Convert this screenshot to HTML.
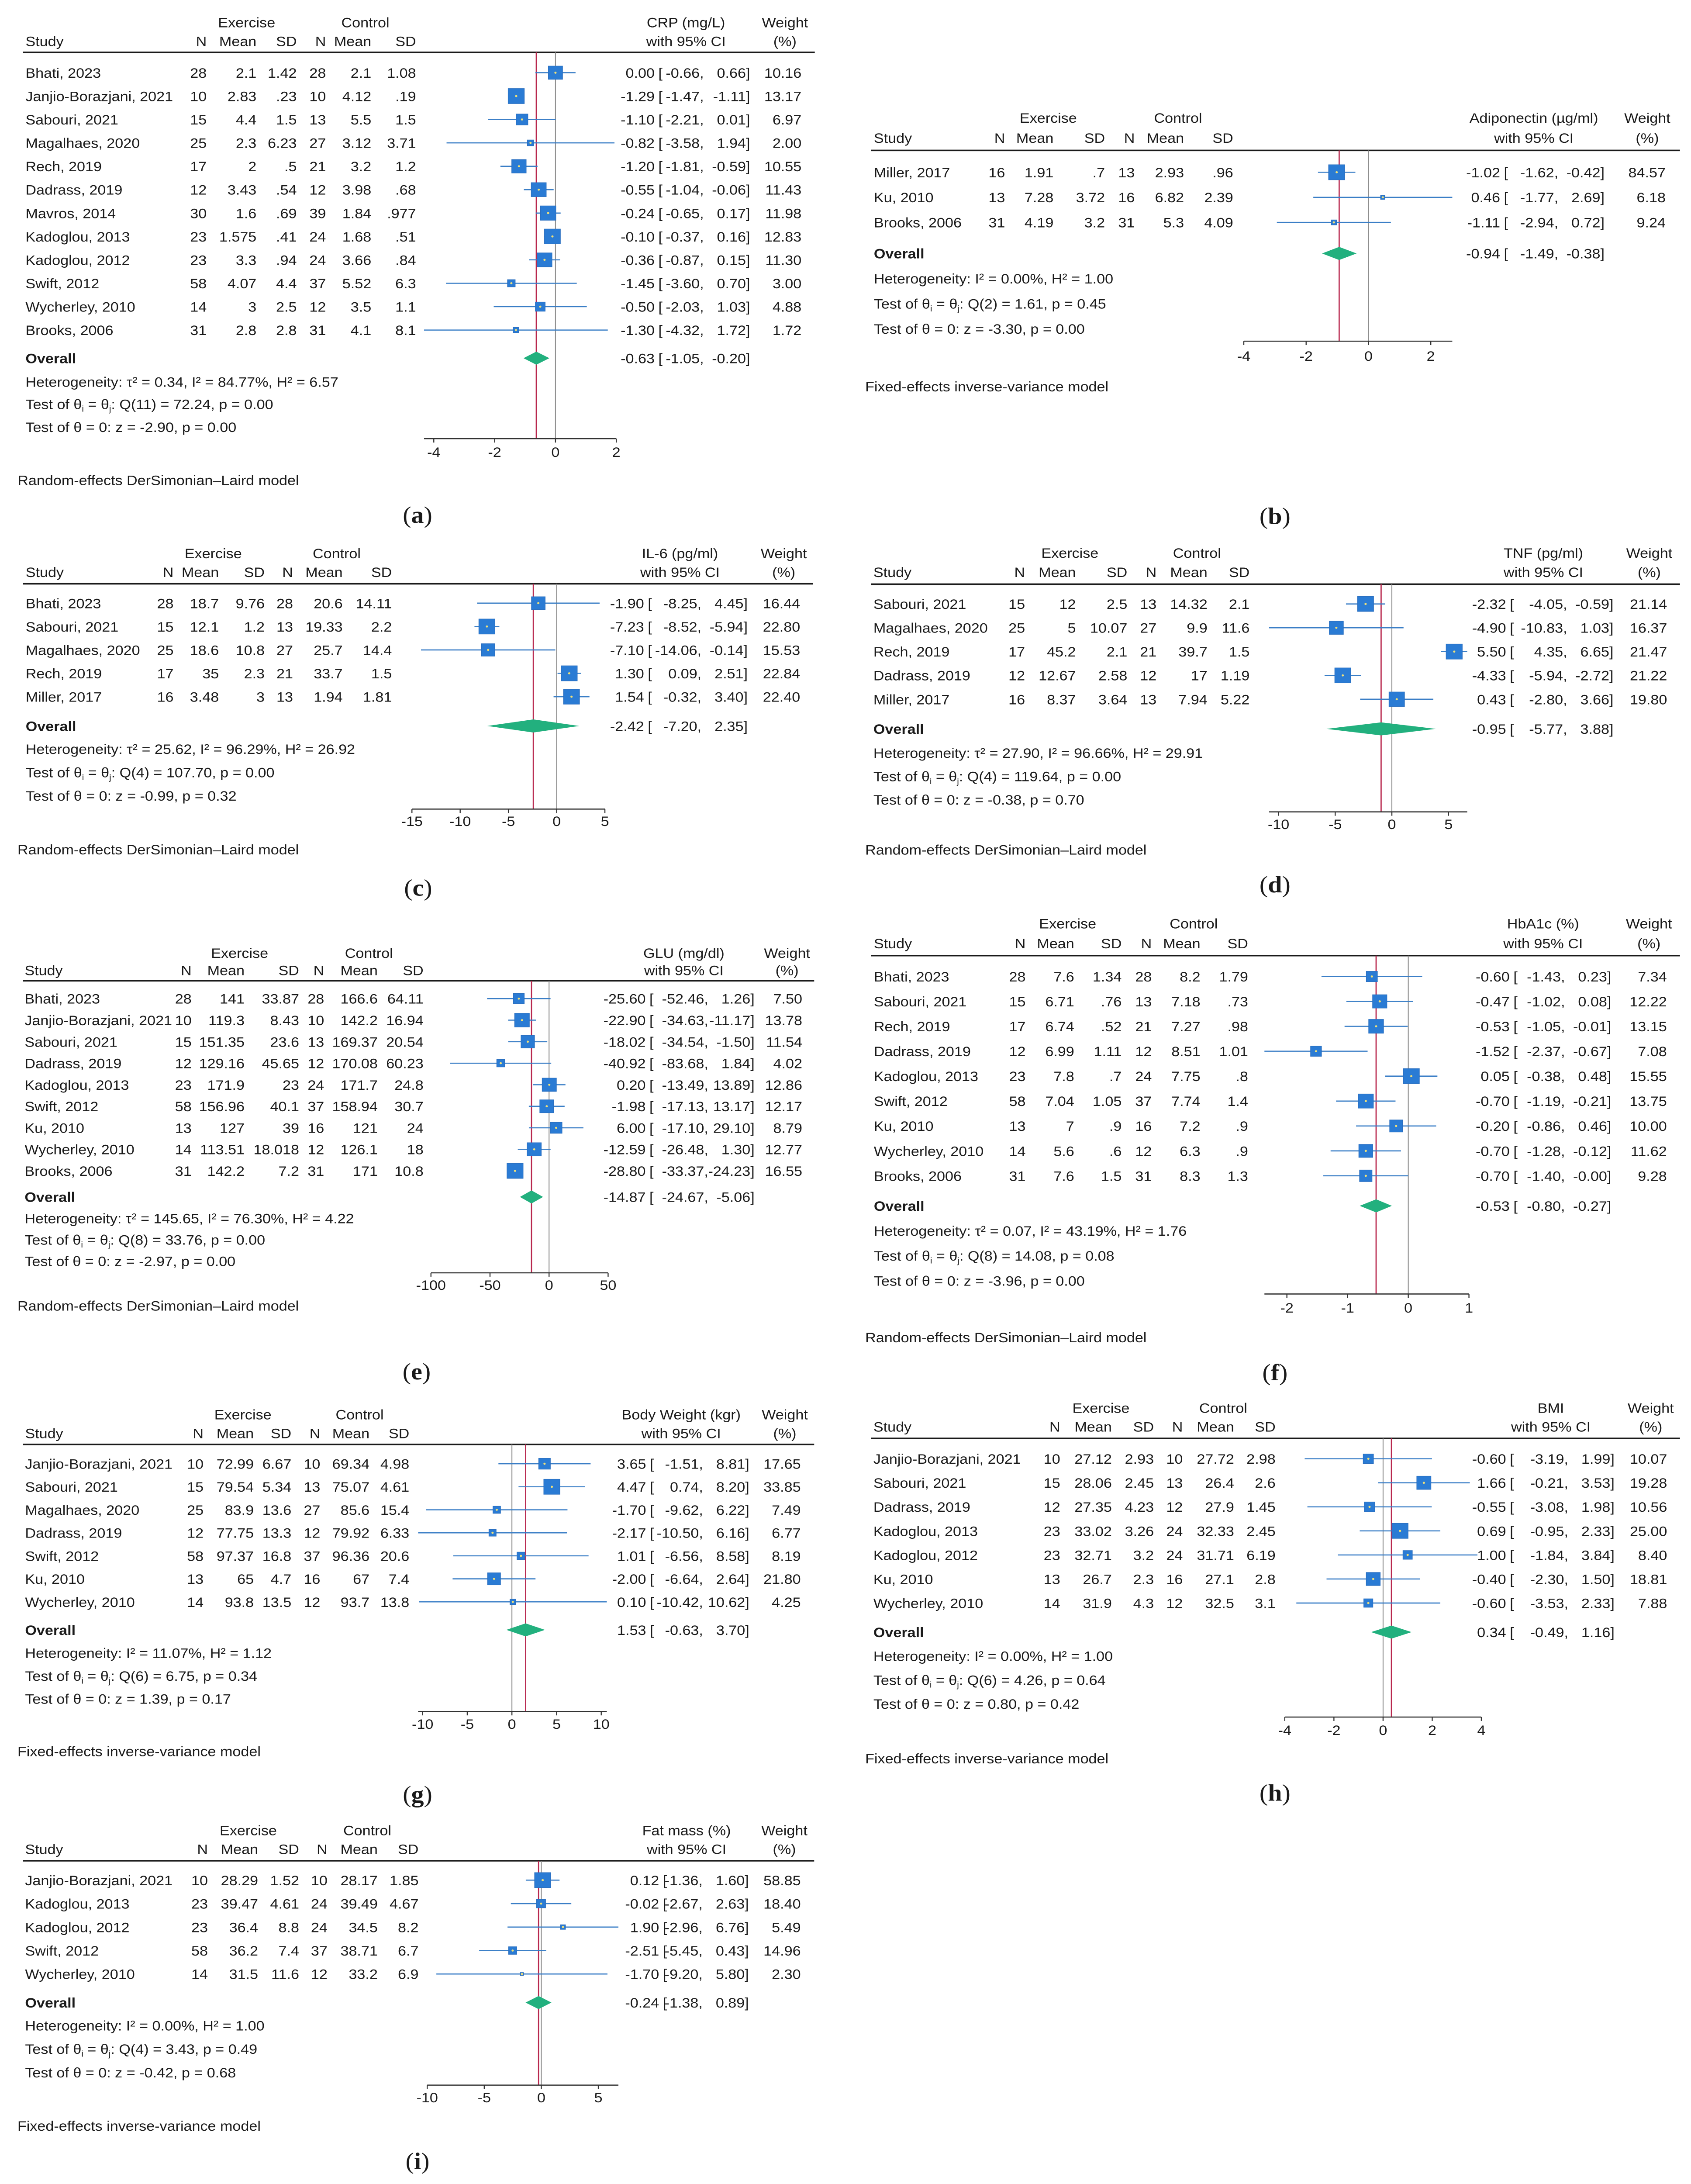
<!DOCTYPE html>
<html><head><meta charset="utf-8">
<style>
html,body{margin:0;padding:0;background:#fff;width:100%;height:100%;overflow:hidden;}
svg{display:block;position:absolute;left:0;top:0;width:100vw;height:100vh;}
text{font-family:"Liberation Sans",Arial,sans-serif;fill:#1a1a1a;}
text.lab{font-family:"Liberation Serif","DejaVu Serif",serif;}
</style></head>
<body>
<svg id="fig" xmlns="http://www.w3.org/2000/svg" viewBox="0 0 1134 1568.3" preserveAspectRatio="none">
<rect x="0" y="0" width="1134" height="1568.3" fill="#fff"/>
</svg>
<script>
// ---------- Panel a: CRP ----------
const aStudy=["Bhati, 2023","Janjio-Borazjani, 2021","Sabouri, 2021","Magalhaes, 2020","Rech, 2019","Dadrass, 2019","Mavros, 2014","Kadoglou, 2013","Kadoglou, 2012","Swift, 2012","Wycherley, 2010","Brooks, 2006"];
const aTable=[["28","2.1","1.42","28","2.1","1.08"],["10","2.83",".23","10","4.12",".19"],["15","4.4","1.5","13","5.5","1.5"],["25","2.3","6.23","27","3.12","3.71"],["17","2",".5","21","3.2","1.2"],["12","3.43",".54","12","3.98",".68"],["30","1.6",".69","39","1.84",".977"],["23","1.575",".41","24","1.68",".51"],["23","3.3",".94","24","3.66",".84"],["58","4.07","4.4","37","5.52","6.3"],["14","3","2.5","12","3.5","1.1"],["31","2.8","2.8","31","4.1","8.1"]];
const aES=[0.00,-1.29,-1.10,-0.82,-1.20,-0.55,-0.24,-0.10,-0.36,-1.45,-0.50,-1.30];
const aLo=[-0.66,-1.47,-2.21,-3.58,-1.81,-1.04,-0.65,-0.37,-0.87,-3.60,-2.03,-4.32];
const aHi=[0.66,-1.11,0.01,1.94,-0.59,-0.06,0.17,0.16,0.15,0.70,1.03,1.72];
const aWt=[10.16,13.17,6.97,2.00,10.55,11.43,11.98,12.83,11.30,3.00,4.88,1.72];
const aOverall=[-0.63,-1.05,-0.20];
const aTicks=[-4,-2,0,2];
const aHet="Heterogeneity: τ² = 0.34, I² = 84.77%, H² = 6.57";
const aQ="Q(11) = 72.24, p = 0.00";
const aZ="Test of θ = 0: z = -2.90, p = 0.00";

// ---------- Panel b: Adiponectin ----------
const bStudy=["Miller, 2017","Ku, 2010","Brooks, 2006"];
const bTable=[["16","1.91",".7","13","2.93",".96"],["13","7.28","3.72","16","6.82","2.39"],["31","4.19","3.2","31","5.3","4.09"]];
const bES=[-1.02,0.46,-1.11];
const bLo=[-1.62,-1.77,-2.94];
const bHi=[-0.42,2.69,0.72];
const bWt=[84.57,6.18,9.24];
const bOverall=[-0.94,-1.49,-0.38];
const bTicks=[-4,-2,0,2];
const bHet="Heterogeneity: I² = 0.00%, H² = 1.00";
const bQ="Q(2) = 1.61, p = 0.45";
const bZ="Test of θ = 0: z = -3.30, p = 0.00";

// ---------- Panel c: IL-6 ----------
const cStudy=["Bhati, 2023","Sabouri, 2021","Magalhaes, 2020","Rech, 2019","Miller, 2017"];
const cTable=[["28","18.7","9.76","28","20.6","14.11"],["15","12.1","1.2","13","19.33","2.2"],["25","18.6","10.8","27","25.7","14.4"],["17","35","2.3","21","33.7","1.5"],["16","3.48","3","13","1.94","1.81"]];
const cES=[-1.90,-7.23,-7.10,1.30,1.54];
const cLo=[-8.25,-8.52,-14.06,0.09,-0.32];
const cHi=[4.45,-5.94,-0.14,2.51,3.40];
const cWt=[16.44,22.80,15.53,22.84,22.40];
const cOverall=[-2.42,-7.20,2.35];
const cTicks=[-15,-10,-5,0,5];
const cHet="Heterogeneity: τ² = 25.62, I² = 96.29%, H² = 26.92";
const cQ="Q(4) = 107.70, p = 0.00";
const cZ="Test of θ = 0: z = -0.99, p = 0.32";

// ---------- Panel d: TNF ----------
const dStudy=["Sabouri, 2021","Magalhaes, 2020","Rech, 2019","Dadrass, 2019","Miller, 2017"];
const dTable=[["15","12","2.5","13","14.32","2.1"],["25","5","10.07","27","9.9","11.6"],["17","45.2","2.1","21","39.7","1.5"],["12","12.67","2.58","12","17","1.19"],["16","8.37","3.64","13","7.94","5.22"]];
const dES=[-2.32,-4.90,5.50,-4.33,0.43];
const dLo=[-4.05,-10.83,4.35,-5.94,-2.80];
const dHi=[-0.59,1.03,6.65,-2.72,3.66];
const dWt=[21.14,16.37,21.47,21.22,19.80];
const dOverall=[-0.95,-5.77,3.88];
const dTicks=[-10,-5,0,5];
const dHet="Heterogeneity: τ² = 27.90, I² = 96.66%, H² = 29.91";
const dQ="Q(4) = 119.64, p = 0.00";
const dZ="Test of θ = 0: z = -0.38, p = 0.70";

// ---------- Panel e: GLU ----------
const eStudy=["Bhati, 2023","Janjio-Borazjani, 2021","Sabouri, 2021","Dadrass, 2019","Kadoglou, 2013","Swift, 2012","Ku, 2010","Wycherley, 2010","Brooks, 2006"];
const eTable=[["28","141","33.87","28","166.6","64.11"],["10","119.3","8.43","10","142.2","16.94"],["15","151.35","23.6","13","169.37","20.54"],["12","129.16","45.65","12","170.08","60.23"],["23","171.9","23","24","171.7","24.8"],["58","156.96","40.1","37","158.94","30.7"],["13","127","39","16","121","24"],["14","113.51","18.018","12","126.1","18"],["31","142.2","7.2","31","171","10.8"]];
const eES=[-25.60,-22.90,-18.02,-40.92,0.20,-1.98,6.00,-12.59,-28.80];
const eLo=[-52.46,-34.63,-34.54,-83.68,-13.49,-17.13,-17.10,-26.48,-33.37];
const eHi=[1.26,-11.17,-1.50,1.84,13.89,13.17,29.10,1.30,-24.23];
const eWt=[7.50,13.78,11.54,4.02,12.86,12.17,8.79,12.77,16.55];
const eOverall=[-14.87,-24.67,-5.06];
const eTicks=[-100,-50,0,50];
const eHet="Heterogeneity: τ² = 145.65, I² = 76.30%, H² = 4.22";
const eQ="Q(8) = 33.76, p = 0.00";
const eZ="Test of θ = 0: z = -2.97, p = 0.00";

// ---------- Panel f: HbA1c ----------
const fStudy=["Bhati, 2023","Sabouri, 2021","Rech, 2019","Dadrass, 2019","Kadoglou, 2013","Swift, 2012","Ku, 2010","Wycherley, 2010","Brooks, 2006"];
const fTable=[["28","7.6","1.34","28","8.2","1.79"],["15","6.71",".76","13","7.18",".73"],["17","6.74",".52","21","7.27",".98"],["12","6.99","1.11","12","8.51","1.01"],["23","7.8",".7","24","7.75",".8"],["58","7.04","1.05","37","7.74","1.4"],["13","7",".9","16","7.2",".9"],["14","5.6",".6","12","6.3",".9"],["31","7.6","1.5","31","8.3","1.3"]];
const fES=[-0.60,-0.47,-0.53,-1.52,0.05,-0.70,-0.20,-0.70,-0.70];
const fLo=[-1.43,-1.02,-1.05,-2.37,-0.38,-1.19,-0.86,-1.28,-1.40];
const fHi=[0.23,0.08,-0.01,-0.67,0.48,-0.21,0.46,-0.12,-0.00];
const fWt=[7.34,12.22,13.15,7.08,15.55,13.75,10.00,11.62,9.28];
const fOverall=[-0.53,-0.80,-0.27];
const fTicks=[-2,-1,0,1];
const fHet="Heterogeneity: τ² = 0.07, I² = 43.19%, H² = 1.76";
const fQ="Q(8) = 14.08, p = 0.08";
const fZ="Test of θ = 0: z = -3.96, p = 0.00";

// ---------- Panel g: Body weight ----------
const gStudy=["Janjio-Borazjani, 2021","Sabouri, 2021","Magalhaes, 2020","Dadrass, 2019","Swift, 2012","Ku, 2010","Wycherley, 2010"];
const gTable=[["10","72.99","6.67","10","69.34","4.98"],["15","79.54","5.34","13","75.07","4.61"],["25","83.9","13.6","27","85.6","15.4"],["12","77.75","13.3","12","79.92","6.33"],["58","97.37","16.8","37","96.36","20.6"],["13","65","4.7","16","67","7.4"],["14","93.8","13.5","12","93.7","13.8"]];
const gES=[3.65,4.47,-1.70,-2.17,1.01,-2.00,0.10];
const gLo=[-1.51,0.74,-9.62,-10.50,-6.56,-6.64,-10.42];
const gHi=[8.81,8.20,6.22,6.16,8.58,2.64,10.62];
const gWt=[17.65,33.85,7.49,6.77,8.19,21.80,4.25];
const gOverall=[1.53,-0.63,3.70];
const gTicks=[-10,-5,0,5,10];
const gHet="Heterogeneity: I² = 11.07%, H² = 1.12";
const gQ="Q(6) = 6.75, p = 0.34";
const gZ="Test of θ = 0: z = 1.39, p = 0.17";

// ---------- Panel h: BMI ----------
const hStudy=["Janjio-Borazjani, 2021","Sabouri, 2021","Dadrass, 2019","Kadoglou, 2013","Kadoglou, 2012","Ku, 2010","Wycherley, 2010"];
const hTable=[["10","27.12","2.93","10","27.72","2.98"],["15","28.06","2.45","13","26.4","2.6"],["12","27.35","4.23","12","27.9","1.45"],["23","33.02","3.26","24","32.33","2.45"],["23","32.71","3.2","24","31.71","6.19"],["13","26.7","2.3","16","27.1","2.8"],["14","31.9","4.3","12","32.5","3.1"]];
const hES=[-0.60,1.66,-0.55,0.69,1.00,-0.40,-0.60];
const hLo=[-3.19,-0.21,-3.08,-0.95,-1.84,-2.30,-3.53];
const hHi=[1.99,3.53,1.98,2.33,3.84,1.50,2.33];
const hWt=[10.07,19.28,10.56,25.00,8.40,18.81,7.88];
const hOverall=[0.34,-0.49,1.16];
const hTicks=[-4,-2,0,2,4];
const hHet="Heterogeneity: I² = 0.00%, H² = 1.00";
const hQ="Q(6) = 4.26, p = 0.64";
const hZ="Test of θ = 0: z = 0.80, p = 0.42";

// ---------- Panel i: Fat mass ----------
const iStudy=["Janjio-Borazjani, 2021","Kadoglou, 2013","Kadoglou, 2012","Swift, 2012","Wycherley, 2010"];
const iTable=[["10","28.29","1.52","10","28.17","1.85"],["23","39.47","4.61","24","39.49","4.67"],["23","36.4","8.8","24","34.5","8.2"],["58","36.2","7.4","37","38.71","6.7"],["14","31.5","11.6","12","33.2","6.9"]];
const iES=[0.12,-0.02,1.90,-2.51,-1.70];
const iLo=[-1.36,-2.67,-2.96,-5.45,-9.20];
const iHi=[1.60,2.63,6.76,0.43,5.80];
const iWt=[58.85,18.40,5.49,14.96,2.30];
const iOverall=[-0.24,-1.38,0.89];
const iTicks=[-10,-5,0,5];
const iHet="Heterogeneity: I² = 0.00%, H² = 1.00";
const iQ="Q(4) = 3.43, p = 0.49";
const iZ="Test of θ = 0: z = -0.42, p = 0.68";

const RE="Random-effects DerSimonian–Laird model";
const FE="Fixed-effects inverse-variance model";

// ---------- layout (positions only) ----------
const panels=[
 {id:'a',title:'CRP (mg/L)',study:aStudy,tab:aTable,es:aES,lo:aLo,hi:aHi,wt:aWt,ov:aOverall,ticks:aTicks,het:aHet,q:aQ,z:aZ,model:RE,
  x0:15.4,x1:546.4,yEx:16,yHd:29.5,yLine:37.6,row0:52.2,dRow:16.8,yOv:257.2,yS:[274.1,290.1,306.6],yAx:315,yTk:324.5,yMod:344.7,yLab:370,labX:280,
  sx:17.1,colR:[138.6,172,199,218.6,249,279],exC:165.4,coC:245,zero:372.5,ppu:20.4,esR:439,ciR:503,wtR:537.5,hdrC:460,wtC:526.4,modX:11.8},
 {id:'b',title:'Adiponectin (µg/ml)',study:bStudy,tab:bTable,es:bES,lo:bLo,hi:bHi,wt:bWt,ov:bOverall,ticks:bTicks,het:bHet,q:bQ,z:bZ,model:FE,
  x0:584,x1:1126.6,yEx:84.5,yHd:99,yLine:108,row0:123.7,dRow:18,yOv:182,yS:[200,218,236],yAx:245,yTk:255.5,yMod:277.4,yLab:370.8,labX:855,
  sx:586,colR:[674,706.5,741,761,794,827],exC:703,coC:790,zero:917.7,ppu:20.9,esR:1006,ciR:1076,wtR:1117,hdrC:1028.6,wtC:1104.7,modX:580.2},
 {id:'c',title:'IL-6 (pg/ml)',study:cStudy,tab:cTable,es:cES,lo:cLo,hi:cHi,wt:cWt,ov:cOverall,ticks:cTicks,het:cHet,q:cQ,z:cZ,model:RE,
  x0:15.4,x1:545.3,yEx:397.2,yHd:410.7,yLine:419.2,row0:433.1,dRow:16.8,yOv:521.3,yS:[537.8,554.6,571.4],yAx:581,yTk:589.6,yMod:609.9,yLab:637.7,labX:280.4,
  sx:17.2,colR:[116.4,146.8,177.5,196.5,229.8,262.8],exC:143,coC:225.8,zero:373.3,ppu:6.47,esR:431.9,ciR:501.4,wtR:536.6,hdrC:456,wtC:525.6,modX:11.7},
 {id:'d',title:'TNF (pg/ml)',study:dStudy,tab:dTable,es:dES,lo:dLo,hi:dHi,wt:dWt,ov:dOverall,ticks:dTicks,het:dHet,q:dQ,z:dZ,model:RE,
  x0:584,x1:1126.6,yEx:397,yHd:410.7,yLine:419.5,row0:433.7,dRow:17.1,yOv:523.4,yS:[540.6,557.4,574.2],yAx:583,yTk:591.8,yMod:610,yLab:635.3,labX:855,
  sx:585.7,colR:[687.4,721.5,756,775.6,809.7,838],exC:717.5,coC:802.7,zero:933.4,ppu:7.6,esR:1010,ciR:1082,wtR:1118,hdrC:1035,wtC:1106,modX:580.2},
 {id:'e',title:'GLU (mg/dl)',study:eStudy,tab:eTable,es:eES,lo:eLo,hi:eHi,wt:eWt,ov:eOverall,ticks:eTicks,het:eHet,q:eQ,z:eZ,model:RE,
  x0:15.4,x1:546,yEx:684.2,yHd:696.6,yLine:704.3,row0:717.1,dRow:15.46,yOv:859.5,yS:[874.8,890.2,905.6],yAx:914,yTk:922.6,yMod:937.5,yLab:985,labX:279.4,
  sx:16.5,colR:[128.5,164,200.6,217.4,253.3,284],exC:160.7,coC:247.4,zero:368.2,ppu:0.792,esR:433,ciR:506,wtR:538,hdrC:458.6,wtC:527.8,modX:11.7},
 {id:'f',title:'HbA1c (%)',study:fStudy,tab:fTable,es:fES,lo:fLo,hi:fHi,wt:fWt,ov:fOverall,ticks:fTicks,het:fHet,q:fQ,z:fZ,model:RE,
  x0:584,x1:1126.6,yEx:663.1,yHd:677.4,yLine:686.2,row0:701.2,dRow:17.89,yOv:865.9,yS:[883.8,901.7,919.7],yAx:929.2,yTk:939,yMod:960.3,yLab:985.6,labX:855,
  sx:586,colR:[687.8,720.4,752.2,772.4,805,837],exC:716,coC:800.5,zero:944.4,ppu:40.7,esR:1012.4,ciR:1080.5,wtR:1117.8,hdrC:1034.8,wtC:1105.8,modX:580.2},
 {id:'g',title:'Body Weight (kgr)',study:gStudy,tab:gTable,es:gES,lo:gLo,hi:gHi,wt:gWt,ov:gOverall,ticks:gTicks,het:gHet,q:gQ,z:gZ,model:FE,
  x0:15.4,x1:546,yEx:1015.6,yHd:1029.1,yLine:1037.2,row0:1051.1,dRow:16.53,yOv:1170.4,yS:[1186.9,1203.4,1219.8],yAx:1229,yTk:1237.8,yMod:1257.5,yLab:1288.6,labX:280,
  sx:16.8,colR:[136.5,170.2,195.4,214.8,247.8,274.5],exC:162.9,coC:241.2,zero:343.3,ppu:5.99,esR:433.3,ciR:502.5,wtR:537,hdrC:456.8,wtC:526.3,modX:11.7},
 {id:'h',title:'BMI',study:hStudy,tab:hTable,es:hES,lo:hLo,hi:hHi,wt:hWt,ov:hOverall,ticks:hTicks,het:hHet,q:hQ,z:hZ,model:FE,
  x0:584,x1:1126.6,yEx:1010.9,yHd:1024.4,yLine:1032.9,row0:1047.5,dRow:17.27,yOv:1172,yS:[1189.1,1206.3,1223.5],yAx:1233,yTk:1242.2,yMod:1262.7,yLab:1287.6,labX:855,
  sx:585.7,colR:[711,745.6,773.8,793.2,827.6,855.4],exC:738.3,coC:820.3,zero:927.5,ppu:16.48,esR:1010,ciR:1082.7,wtR:1118,hdrC:1040,wtC:1107,modX:580.2},
 {id:'i',title:'Fat mass (%)',study:iStudy,tab:iTable,es:iES,lo:iLo,hi:iHi,wt:iWt,ov:iOverall,ticks:iTicks,het:iHet,q:iQ,z:iZ,model:FE,
  x0:15.4,x1:546,yEx:1314.3,yHd:1327.8,yLine:1336.2,row0:1350.1,dRow:16.85,yOv:1438,yS:[1454.5,1471.3,1488.1],yAx:1497.3,yTk:1506,yMod:1526.5,yLab:1552,labX:280,
  sx:16.8,colR:[139.4,173.1,200.6,219.6,253.3,280.7],exC:166.5,coC:246.3,zero:363,ppu:7.65,esR:442,ciR:502.2,wtR:537,hdrC:460.4,wtC:526,modX:11.7}
];

const NS="http://www.w3.org/2000/svg";
const svg=document.getElementById('fig');
const FS=10, BL=3.6;
function mk(tag,attrs,parent){
  const el=document.createElementNS(NS,tag);
  for(const k in attrs) el.setAttribute(k,attrs[k]);
  (parent||svg).appendChild(el);
  return el;
}
function nm(el,name){
  
  
  return el;
}
function txt(g,x,y,s,anchor,name,extra){
  const a=Object.assign({x:x,y:y+BL,'font-size':FS,'text-anchor':anchor||'start'},extra||{});
  const t=mk('text',a,g);
  t.textContent=s;
  nm(t,name);
  return t;
}
function fmt(v){return ((v<0||Object.is(v,-0))?'-':'')+Math.abs(v).toFixed(2);}
const hdrLabels=['N','Mean','SD','N','Mean','SD'];

panels.forEach(p=>{
  const g=mk('g',{});
  nm(g,'forest-panel-'+p.id);
  const X=v=>p.zero+v*p.ppu;
  txt(g,p.exC,p.yEx,'Exercise','middle','exercise-header');
  txt(g,p.coC,p.yEx,'Control','middle','control-header');
  txt(g,p.hdrC,p.yEx,p.title,'middle','effect-measure-header');
  txt(g,p.wtC,p.yEx,'Weight','middle','weight-header');
  txt(g,p.sx,p.yHd,'Study','start','study-header');
  hdrLabels.forEach((h,k)=>txt(g,p.colR[k],p.yHd,h,'end','column-header-'+h.toLowerCase()));
  txt(g,p.hdrC,p.yHd,'with 95% CI','middle','ci-header');
  txt(g,p.wtC,p.yHd,'(%)','middle','weight-unit-header');
  const hl=mk('line',{x1:p.x0,x2:p.x1,y1:p.yLine,y2:p.yLine,stroke:'#1a1a1a','stroke-width':1.1},g);
  nm(hl,'header-rule');
  const zl=mk('line',{x1:X(0),x2:X(0),y1:p.yLine,y2:p.yAx,stroke:'#8c8c8c','stroke-width':0.6},g);
  nm(zl,'null-effect-line');
  const rl=mk('line',{x1:X(p.ov[0]),x2:X(p.ov[0]),y1:p.yLine,y2:p.yAx,stroke:'#b8284e','stroke-width':0.8},g);
  nm(rl,'overall-effect-line');
  const maxW=Math.max(...p.wt);
  p.study.forEach((s,r)=>{
    const y=p.row0+r*p.dRow;
    txt(g,p.sx,y,s,'start','study-name');
    p.tab[r].forEach((v,k)=>txt(g,p.colR[k],y,v,'end','study-value'));
    txt(g,p.esR,y,fmt(p.es[r]),'end','effect-size');
    txt(g,p.esR+2.5,y,'[','start','ci-bracket');
    txt(g,p.ciR-31,y,fmt(p.lo[r])+',','end','ci-lower');
    txt(g,p.ciR,y,fmt(p.hi[r])+']','end','ci-upper');
    txt(g,p.wtR,y,p.wt[r].toFixed(2),'end','study-weight');
    const ci=mk('line',{x1:X(p.lo[r]),x2:X(p.hi[r]),y1:y,y2:y,stroke:'#3a7ec6','stroke-width':0.8},g);
    nm(ci,'ci-line');
    const sd=10.8*Math.sqrt(p.wt[r]/maxW);
    const sq=mk('rect',{x:X(p.es[r])-sd/2,y:y-sd/2,width:sd,height:sd,fill:'#2a7bd4',stroke:'#2a6fc0','stroke-width':0.4},g);
    nm(sq,'study-marker');
    const dt=mk('circle',{cx:X(p.es[r]),cy:y,r:0.75,fill:'#efe07a'},g);
    nm(dt,'marker-center');
  });
  txt(g,p.sx,p.yOv,'Overall','start','overall-label',{'font-weight':'bold'});
  txt(g,p.esR,p.yOv,fmt(p.ov[0]),'end','overall-effect');
  txt(g,p.esR+2.5,p.yOv,'[','start','ci-bracket');
  txt(g,p.ciR-31,p.yOv,fmt(p.ov[1])+',','end','overall-ci-lower');
  txt(g,p.ciR,p.yOv,fmt(p.ov[2])+']','end','overall-ci-upper');
  const dm=mk('polygon',{points:[X(p.ov[1])+','+p.yOv,X(p.ov[0])+','+(p.yOv-4.7),X(p.ov[2])+','+p.yOv,X(p.ov[0])+','+(p.yOv+4.7)].join(' '),fill:'#22b07e'},g);
  nm(dm,'overall-diamond');
  txt(g,p.sx,p.yS[0],p.het,'start','heterogeneity-stat');
  const qt=txt(g,p.sx,p.yS[1],'','start','homogeneity-test');
  const parts=[['Test of θ',0,FS],['i',2,6],[' = θ',-2,FS],['j',2,6],[': '+p.q,-2,FS]];
  parts.forEach(pt=>{const ts=mk('tspan',{dy:pt[1],'font-size':pt[2]},qt);ts.textContent=pt[0];});
  txt(g,p.sx,p.yS[2],p.z,'start','overall-effect-test');
  const aMin=Math.min(p.ticks[0],...p.lo), aMax=Math.max(p.ticks[p.ticks.length-1],...p.hi);
  const ax=mk('line',{x1:X(aMin),x2:X(aMax),y1:p.yAx,y2:p.yAx,stroke:'#333','stroke-width':0.8},g);
  nm(ax,'x-axis');
  p.ticks.forEach(t=>{
    const tk=mk('line',{x1:X(t),x2:X(t),y1:p.yAx,y2:p.yAx+2.8,stroke:'#333','stroke-width':0.7},g);
    nm(tk,'x-tick');
    txt(g,X(t),p.yTk,String(t),'middle','x-tick-label');
  });
  txt(g,p.modX,p.yMod,p.model,'start','model-note');
  const lb=mk('text',{x:p.labX,y:p.yLab+5.5,'font-size':17,'text-anchor':'middle','class':'lab',style:'font-family:"Liberation Serif","DejaVu Serif",serif'},g);
  nm(lb,'panel-label-'+p.id);
  const t1=mk('tspan',{},lb); t1.textContent='(';
  const t2=mk('tspan',{'font-weight':'bold'},lb); t2.textContent=p.id;
  const t3=mk('tspan',{},lb); t3.textContent=')';
});
</script>
</body></html>
